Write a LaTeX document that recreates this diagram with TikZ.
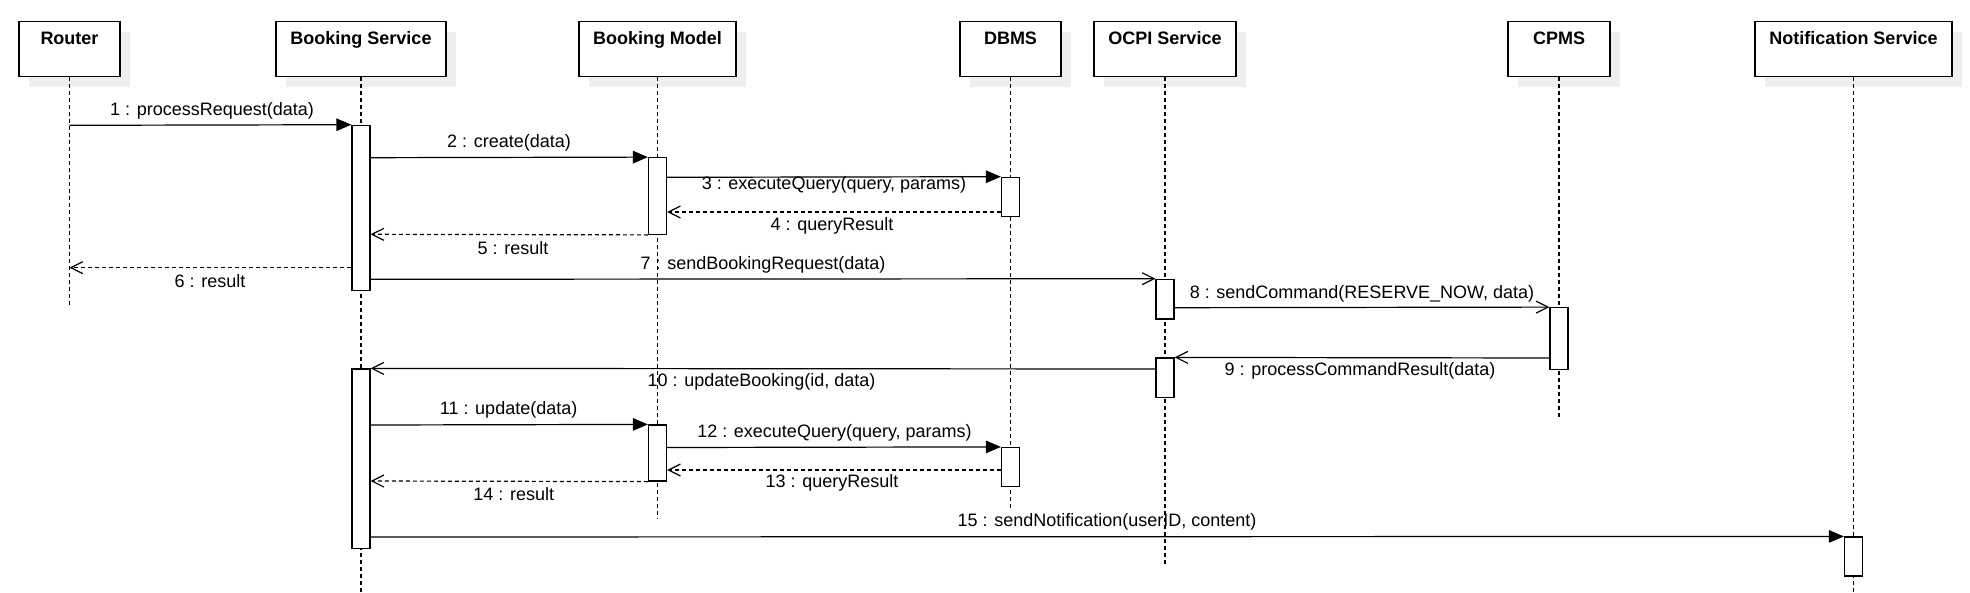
\documentclass[tikz,border=0pt]{standalone}
\usepackage{fontspec}
\setmainfont{Liberation Sans}
\usetikzlibrary{arrows.meta,shadows}
\definecolor{shadowgray}{HTML}{EEEEEE}
\begin{document}
\begin{tikzpicture}[x=1pt,y=-1pt,
  font=\fontsize{18pt}{21pt}\selectfont,
  hdr/.style={draw=black, line width=1.5pt, fill=white, minimum height=55pt, inner sep=0pt,
    drop shadow={shadow xshift=10pt, shadow yshift=-10pt, fill=shadowgray, opacity=1}},
  hlbl/.style={anchor=base, yshift=-24pt, font=\fontsize{18pt}{21pt}\selectfont\bfseries},
  life/.style={line width=1.1pt, dash pattern=on 4pt off 3pt},
  act/.style={draw=black, fill=white, line width=1.2pt, minimum width=18pt, inner sep=0pt},
  sync/.style={line width=1.2pt, -{Triangle[length=15pt,width=12.5pt]}},
  async/.style={line width=1.2pt, -{Straight Barb[length=12pt,width=12pt,line width=1.2pt]}},
  reply/.style={line width=1.2pt, dash pattern=on 4pt off 3pt, -{Straight Barb[length=12pt,width=12pt,line width=1.2pt]}},
  lbl/.style={inner sep=0pt, anchor=center}]
\useasboundingbox (0,0) rectangle (1970,592);

% headers
\node[hdr, minimum width=101pt, label={[hlbl]north:Router}] (router) at (69.5,49.2) {};
\node[hdr, minimum width=170pt, label={[hlbl]north:Booking Service}] (bs) at (361,49.2) {};
\node[hdr, minimum width=157pt, label={[hlbl]north:Booking Model}] (bm) at (657.5,49.2) {};
\node[hdr, minimum width=101pt, label={[hlbl]north:DBMS}] (db) at (1010.5,49.2) {};
\node[hdr, minimum width=142pt, label={[hlbl]north:OCPI Service}] (oc) at (1165,49.2) {};
\node[hdr, minimum width=102pt, label={[hlbl]north:CPMS}] (cp) at (1559,49.2) {};
\node[hdr, minimum width=197pt, label={[hlbl]north:Notification Service}] (nt) at (1853.5,49.2) {};

% lifelines
\coordinate (routerEnd) at (router.south |- 0,308);
\coordinate (bsEnd) at (bs.south |- 0,592);
\coordinate (bmEnd) at (bm.south |- 0,519);
\coordinate (dbEnd) at (db.south |- 0,510);
\coordinate (ocEnd) at (oc.south |- 0,567);
\coordinate (cpEnd) at (cp.south |- 0,417);
\coordinate (ntEnd) at (nt.south |- 0,592);
\draw[life] (router.south) -- (routerEnd);
\draw[life] (bs.south) -- (bsEnd);
\draw[life] (bm.south) -- (bmEnd);
\draw[life] (db.south) -- (dbEnd);
\draw[life] (oc.south) -- (ocEnd);
\draw[life] (cp.south) -- (cpEnd);
\draw[life] (nt.south) -- (ntEnd);

% activations
\node[act, minimum height=165.4pt] (bs1) at (361,208) {};
\node[act, minimum height=179.3pt] (bs2) at (361,458.65) {};
\node[act, minimum height=76.6pt] (bm1) at (657.5,196) {};
\node[act, minimum height=56pt] (bm2) at (657.5,453) {};
\node[act, minimum height=39.4pt] (db1) at (1010.5,197) {};
\node[act, minimum height=39.2pt] (db2) at (1010.5,467.1) {};
\node[act, minimum height=39.7pt] (oc1) at (1165,299.15) {};
\node[act, minimum height=39.3pt] (oc2) at (1165,377.65) {};
\node[act, minimum height=61.6pt] (cp1) at (1559,338.5) {};
\node[act, minimum height=39pt] (nt1) at (1853.5,556.5) {};

% router lifeline points
\coordinate (r1) at (router.south |- 0,125.3);
\coordinate (r6) at (router.south |- 0,267.7);

% messages
\draw[sync] (r1) -- (bs1.north west);
\draw[sync] (bs1.east |- 0,157.7) -- (bm1.north west);
\draw[sync] (bm1.east |- 0,177.3) -- (db1.north west);
\draw[reply] (db1.west |- 0,212) -- (bm1.east |- 0,212);
\draw[reply] (bm1.south west) -- (bs1.east |- 0,234.3);
\draw[reply] (bs1.west |- 0,267.7) -- (r6);
\draw[async] (bs1.east |- 0,279.3) -- (oc1.north west);
\draw[async] (oc1.east |- 0,307.7) -- (cp1.north west);
\draw[async] (cp1.west |- 0,358) -- (oc2.north east);
\draw[async] (oc2.west |- 0,369) -- (bs2.north east);
\draw[sync] (bs2.east |- 0,425) -- (bm2.north west);
\draw[sync] (bm2.east |- 0,447.5) -- (db2.north west);
\draw[reply] (db2.west |- 0,470) -- (bm2.east |- 0,470);
\draw[reply] (bm2.south west) -- (bs2.east |- 0,481);
\draw[sync] (bs2.east |- 0,537) -- (nt1.north west);

% labels
\node[lbl] (l1) at (212,111) {1 : processRequest(data)};
\node[lbl] (l2) at (509,143.3) {2 : create(data)};
\node[lbl] (l3) at (834,185.3) {3 : executeQuery(query, params)};
\node[lbl] (l4) at (832,225.7) {4 : queryResult};
\node[lbl] (l5) at (513,248.3) {5 : result};
\node[lbl] (l6) at (210,281) {6 : result};
\node[lbl] (l7) at (763,265.3) {7 : sendBookingRequest(data)};
\node[lbl] (l8) at (1362,293.5) {8 : sendCommand(RESERVE\_NOW, data)};
\node[lbl] (l9) at (1360,371.3) {9 : processCommandResult(data)};
\node[lbl] (l10) at (761.5,382.3) {10 : updateBooking(id, data)};
\node[lbl] (l11) at (508.6,410) {11 : update(data)};
\node[lbl] (l12) at (834.5,433.3) {12 : executeQuery(query, params)};
\node[lbl] (l13) at (832,483.3) {13 : queryResult};
\node[lbl] (l14) at (513.7,494.3) {14 : result};
\node[lbl] (l15) at (1107,522.3) {15 : sendNotification(userID, content)};
\end{tikzpicture}
\end{document}
